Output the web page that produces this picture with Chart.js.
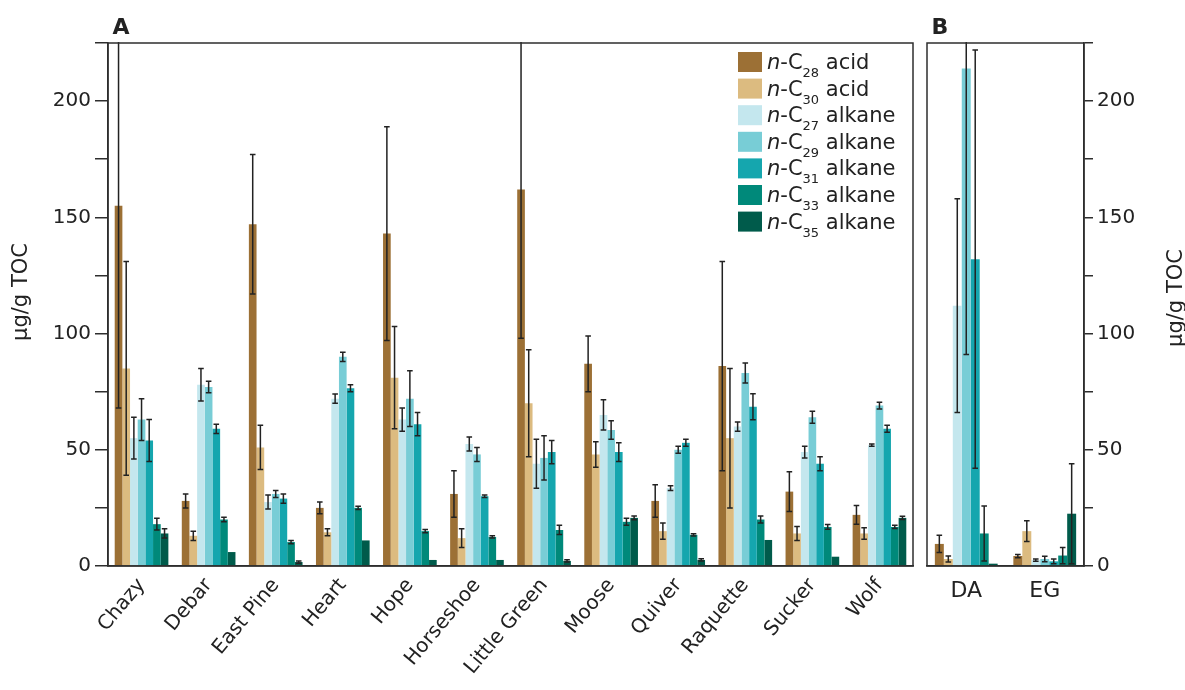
<!DOCTYPE html>
<html lang="en">
<head>
<meta charset="UTF-8">
<title>n-Alkyl lipid concentrations</title>
<script src="https://cdn.jsdelivr.net/npm/chart.js"></script>
<style>
  html, body { margin: 0; padding: 0; background: #fff; }
  #wrap { position: relative; width: 1185px; height: 690px; }
  #boxA { position: absolute; left: 0; top: 0; width: 920px; height: 690px; }
  #boxB { position: absolute; left: 920px; top: 0; width: 265px; height: 690px; }
</style>
</head>
<body>
<div id="wrap">
  <div id="boxA"><canvas id="chartA"></canvas></div>
  <div id="boxB"><canvas id="chartB"></canvas></div>
</div>
<script>
// categories
const lakes = ['Chazy', 'Debar', 'East Pine', 'Heart', 'Hope', 'Horseshoe', 'Little Green',
               'Moose', 'Quiver', 'Raquette', 'Sucker', 'Wolf'];
const soils = ['DA', 'EG'];

// series labels (carbon number + compound class)
const seriesCarbon = ['28', '30', '27', '29', '31', '33', '35'];
const seriesClass = ['acid', 'acid', 'alkane', 'alkane', 'alkane', 'alkane', 'alkane'];
const seriesColors = ['#9c7035', '#dcbb80', '#c4e7ee', '#78cdd6', '#15a6ae', '#00897a', '#005b4b'];

// panel A values (µg/g TOC) and error bars
const lakeC28 = [155, 28, 147, 25, 143, 31, 162, 87, 28, 86, 32, 22];
const lakeC28Err = [87, 3, 30, 2.5, 46, 10, 64, 12, 7, 45, 8.5, 4];
const lakeC30 = [85, 13, 51, 14.5, 81, 12, 70, 48, 15, 55, 14, 14];
const lakeC30Err = [46, 2, 9.5, 1.5, 22, 4, 23, 5.5, 3.5, 30, 3, 2.5];
const lakeC27 = [55, 78, 27.5, 72, 63, 52.5, 44, 65, 33.5, 60, 49, 52];
const lakeC27Err = [9, 7, 3, 2, 5, 3, 10.5, 6.5, 1, 2, 2.5, 0.5];
const lakeC29 = [63, 77, 31, 90, 72, 48, 46.5, 58.5, 50, 83, 64, 69];
const lakeC29Err = [9, 2.5, 1.5, 2, 12, 3, 9.5, 4, 1.5, 4.3, 2.6, 1.5];
const lakeC31 = [54, 59, 29, 76.5, 61, 30, 49, 49, 53, 68.5, 44, 59];
const lakeC31Err = [9, 2, 2, 1.5, 5, 0.5, 5, 4, 1.5, 5.6, 3, 1.5];
const lakeC33 = [18, 20, 10.3, 25, 15, 12.5, 15.5, 19, 13.4, 20, 16.8, 16.8];
const lakeC33Err = [2.5, 1, 0.7, 0.7, 0.7, 0.5, 2, 1.5, 0.5, 1.5, 1, 0.7];
const lakeC35 = [14, 6, 1.7, 11, 2.6, 2.6, 2.2, 20.7, 2.6, 11.2, 4, 20.7];
const lakeC35Err = [2, 0, 0.5, 0, 0, 0, 0.5, 0.8, 0.5, 0, 0, 0.7];

// panel B values (µg/g TOC) and error bars
const soilC28 = [9.5, 4.3];
const soilC28Err = [3.7, 0.7];
const soilC30 = [3, 15];
const soilC30Err = [1.3, 4.5];
const soilC27 = [112, 2.5];
const soilC27Err = [46, 0.5];
const soilC29 = [214, 3];
const soilC29Err = [123, 1.2];
const soilC31 = [132, 2];
const soilC31Err = [90, 1];
const soilC33 = [14, 4.5];
const soilC33Err = [11.8, 3.5];
const soilC35 = [1, 22.5];
const soilC35Err = [0, 21.5];

// y axis
const yMax = 225;
const yStep = 25;
const yLabelEvery = 50;
const yTitle = 'µg/g TOC';

const FONT = '"DejaVu Sans", "Liberation Sans", sans-serif';
const INK = '#222';
const LINE = '#2e2e2e';
Chart.defaults.font.family = FONT;
Chart.defaults.color = INK;

function makeDatasets(values, errors) {
  return values.map((v, i) => ({
    label: 'n-C' + seriesCarbon[i] + ' ' + seriesClass[i],
    data: v,
    errors: errors[i],
    backgroundColor: seriesColors[i],
    borderWidth: 0,
    categoryPercentage: 0.8,
    barPercentage: 1.0
  }));
}

// error bars drawn from the data through the y scale
const errorBars = {
  id: 'errorBars',
  afterDatasetsDraw(chart) {
    const ctx = chart.ctx, ys = chart.scales.y, a = chart.chartArea;
    ctx.save();
    ctx.beginPath();
    ctx.rect(a.left, a.top - 1, a.right - a.left, a.bottom - a.top + 1);
    ctx.clip();
    ctx.strokeStyle = INK;
    ctx.lineWidth = 1.5;
    chart.data.datasets.forEach((ds, i) => {
      chart.getDatasetMeta(i).data.forEach((bar, j) => {
        const e = ds.errors[j];
        if (!e) return;
        const v = ds.data[j];
        const x = bar.x;
        const hi = ys.getPixelForValue(v + e);
        const lo = ys.getPixelForValue(Math.max(0, v - e));
        ctx.beginPath();
        ctx.moveTo(x, hi); ctx.lineTo(x, lo);
        ctx.moveTo(x - 2.8, hi); ctx.lineTo(x + 2.8, hi);
        ctx.moveTo(x - 2.8, lo); ctx.lineTo(x + 2.8, lo);
        ctx.stroke();
      });
    });
    ctx.restore();
  }
};

// frame, panel letter and rotated axis title
function decorations(letter, letterX, titleX, titleY) {
  return {
    id: 'decor' + letter,
    afterDraw(chart) {
      const ctx = chart.ctx, a = chart.chartArea;
      ctx.save();
      ctx.strokeStyle = LINE;
      ctx.lineWidth = 1.5;
      ctx.strokeRect(a.left, a.top, a.right - a.left, a.bottom - a.top);
      ctx.fillStyle = INK;
      ctx.font = 'bold 22px ' + FONT;
      ctx.textAlign = 'center';
      ctx.textBaseline = 'middle';
      ctx.fillText(letter, letterX, 28);
      ctx.font = '21px ' + FONT;
      ctx.translate(titleX, titleY);
      ctx.rotate(-Math.PI / 2);
      ctx.fillText(yTitle, 0, 0);
      ctx.restore();
    }
  };
}

// legend with italic n and subscript carbon numbers
const legendBox = {
  id: 'legendBox',
  afterDraw(chart) {
    const ctx = chart.ctx;
    ctx.save();
    ctx.textBaseline = 'alphabetic';
    ctx.textAlign = 'left';
    seriesCarbon.forEach((c, i) => {
      const top = 52 + i * 26.6;
      ctx.fillStyle = seriesColors[i];
      ctx.fillRect(738, top, 24, 20);
      ctx.fillStyle = INK;
      let x = 767;
      const base = top + 17;
      ctx.font = 'italic 21px ' + FONT;
      ctx.fillText('n', x, base);
      x += ctx.measureText('n').width;
      ctx.font = '21px ' + FONT;
      ctx.fillText('-C', x, base);
      x += ctx.measureText('-C').width;
      ctx.font = '13px ' + FONT;
      ctx.fillText(c, x, base + 8);
      x += ctx.measureText(c).width;
      ctx.font = '21px ' + FONT;
      ctx.fillText(' ' + seriesClass[i], x, base);
    });
    ctx.restore();
  }
};

function yAxis(position, width, tickLen) {
  return {
    position: position,
    min: 0,
    max: yMax,
    afterFit(scale) { scale.width = width; },
    ticks: {
      stepSize: yStep,
      autoSkip: false,
      padding: 4,
      font: { size: 20 },
      color: INK,
      callback: v => (v % yLabelEvery === 0 ? v : '')
    },
    grid: { drawOnChartArea: false, drawTicks: true, tickLength: tickLen, color: LINE, lineWidth: 1.5 },
    border: { display: true, color: LINE, width: 1.5 }
  };
}

new Chart(document.getElementById('chartA'), {
  type: 'bar',
  data: {
    labels: lakes,
    datasets: makeDatasets(
      [lakeC28, lakeC30, lakeC27, lakeC29, lakeC31, lakeC33, lakeC35],
      [lakeC28Err, lakeC30Err, lakeC27Err, lakeC29Err, lakeC31Err, lakeC33Err, lakeC35Err])
  },
  options: {
    responsive: true,
    maintainAspectRatio: false,
    animation: false,
    layout: { padding: { top: 43, right: 7, left: 0, bottom: 0 } },
    plugins: { legend: { display: false }, tooltip: { enabled: false } },
    scales: {
      x: {
        afterFit(scale) { scale.height = 124; },
        ticks: { autoSkip: false, minRotation: 50, maxRotation: 50, padding: 8, font: { size: 20 }, color: INK },
        grid: { display: false, drawTicks: false },
        border: { display: true, color: LINE, width: 1.5 }
      },
      y: yAxis('left', 108, 13)
    }
  },
  plugins: [errorBars, decorations('A', 121, 22, 292), legendBox]
});

new Chart(document.getElementById('chartB'), {
  type: 'bar',
  data: {
    labels: soils,
    datasets: makeDatasets(
      [soilC28, soilC30, soilC27, soilC29, soilC31, soilC33, soilC35],
      [soilC28Err, soilC30Err, soilC27Err, soilC29Err, soilC31Err, soilC33Err, soilC35Err])
  },
  options: {
    responsive: true,
    maintainAspectRatio: false,
    animation: false,
    layout: { padding: { top: 43, right: 0, left: 7, bottom: 0 } },
    plugins: { legend: { display: false }, tooltip: { enabled: false } },
    scales: {
      x: {
        afterFit(scale) { scale.height = 124; },
        ticks: { autoSkip: false, maxRotation: 0, padding: 12, font: { size: 22 }, color: INK },
        grid: { display: false, drawTicks: false },
        border: { display: true, color: LINE, width: 1.5 }
      },
      y: yAxis('right', 101, 9)
    }
  },
  plugins: [errorBars, decorations('B', 20, 257, 298)]
});
</script>
</body>
</html>
